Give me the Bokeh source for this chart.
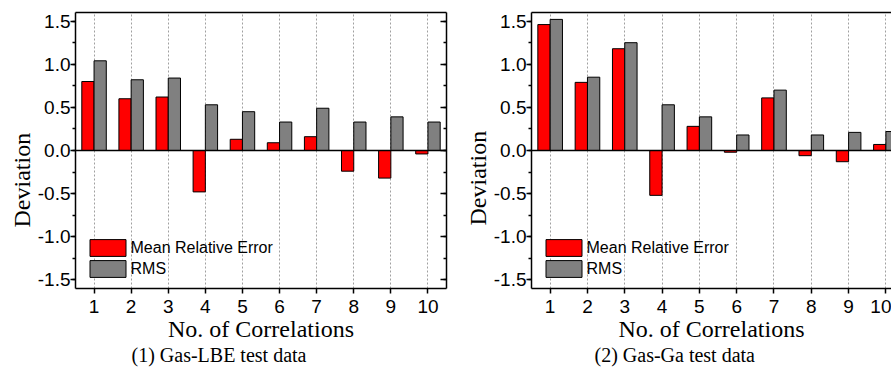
import math
from bokeh.plotting import figure
from bokeh.layouts import row
from bokeh.models import (ColumnDataSource, Range1d, LinearAxis, SingleIntervalTicker,
                          FixedTicker, PrintfTickFormatter, Span, Title, Legend, LegendItem)
from bokeh.transform import dodge
from bokeh.embed import file_html
from bokeh.resources import INLINE

# ---- data ----
correlations = [1, 2, 3, 4, 5, 6, 7, 8, 9, 10]
lbe_mre = [0.80, 0.60, 0.62, -0.48, 0.13, 0.09, 0.16, -0.24, -0.32, -0.04]
lbe_rms = [1.04, 0.82, 0.84, 0.53, 0.45, 0.33, 0.49, 0.33, 0.39, 0.33]
ga_mre = [1.46, 0.79, 1.18, -0.52, 0.28, -0.02, 0.61, -0.06, -0.13, 0.07]
ga_rms = [1.52, 0.85, 1.25, 0.53, 0.39, 0.18, 0.70, 0.18, 0.21, 0.22]
series_names = ["Mean Relative Error", "RMS"]
captions = ["(1) Gas-LBE test data", "(2) Gas-Ga test data"]
y_label = "Deviation"
x_label = "No. of Correlations"

SANS = "Liberation Sans"
SERIF = "Liberation Serif"
H = 369


def make(mre, rms, caption, fig_w, bl, br, x_end, right_axis, cap_off, dev_off):
    p = figure(width=fig_w, height=H, x_range=Range1d(0.5, x_end), y_range=Range1d(-1.6, 1.6),
               output_backend="svg", toolbar_location=None,
               min_border_left=bl, min_border_right=br, min_border_top=12, min_border_bottom=81)
    p.outline_line_color = None
    p.background_fill_color = "white"
    p.border_fill_color = "white"

    src = ColumnDataSource(dict(x=correlations, mre=mre, rms=rms))
    r1 = p.vbar(x=dodge("x", -0.165, range=p.x_range), top="mre", bottom=0, width=0.33, source=src,
                fill_color="#ff0000", line_color="black", line_width=1)
    r2 = p.vbar(x=dodge("x", 0.165, range=p.x_range), top="rms", bottom=0, width=0.33, source=src,
                fill_color="#808080", line_color="black", line_width=1)

    p.add_layout(Span(location=0, dimension="width", line_color="black", line_width=1.5))

    # axes
    xa = p.xaxis[0]
    xa.ticker = FixedTicker(ticks=correlations)
    xa.major_tick_out = 5
    xa.major_tick_in = 0
    xa.minor_tick_out = 0
    xa.axis_line_width = 1.5
    xa.axis_line_color = "black"
    xa.major_tick_line_width = 1.5
    xa.major_tick_line_color = "black"
    xa.major_label_text_font = SANS
    xa.major_label_text_font_size = "19px"
    xa.major_label_text_color = "black"
    xa.major_label_standoff = 6
    xa.axis_label = x_label
    xa.axis_label_text_font = SERIF
    xa.axis_label_text_font_size = "24px"
    xa.axis_label_text_font_style = "normal"
    xa.axis_label_text_color = "black"
    xa.axis_label_standoff = 0

    ya = p.yaxis[0]
    ya.ticker = SingleIntervalTicker(interval=0.5, num_minor_ticks=2)
    ya.formatter = PrintfTickFormatter(format="%.1f")
    ya.major_tick_out = 5
    ya.major_tick_in = 0
    ya.minor_tick_out = 3
    ya.minor_tick_in = 0
    ya.axis_line_width = 1.5
    ya.axis_line_color = "black"
    ya.major_tick_line_width = 1.5
    ya.minor_tick_line_width = 1.5
    ya.major_tick_line_color = "black"
    ya.minor_tick_line_color = "black"
    ya.major_label_text_font = SANS
    ya.major_label_text_font_size = "19px"
    ya.major_label_text_color = "black"
    ya.major_label_standoff = 0

    top = LinearAxis(ticker=FixedTicker(ticks=[]), major_tick_in=0, major_tick_out=0,
                     minor_tick_in=0, minor_tick_out=0, major_label_text_color=None,
                     major_label_standoff=0, axis_line_width=1.5, axis_line_color="black")
    p.add_layout(top, "above")
    if right_axis:
        ra = LinearAxis(ticker=SingleIntervalTicker(interval=0.5, num_minor_ticks=2),
                        major_tick_in=6, major_tick_out=0, minor_tick_in=3, minor_tick_out=0,
                        major_label_text_color=None, major_label_standoff=0,
                        axis_line_width=1.5, axis_line_color="black",
                        major_tick_line_width=1.5, minor_tick_line_width=1.5,
                        major_tick_line_color="black", minor_tick_line_color="black")
        p.add_layout(ra, "right")

    p.xgrid.ticker = FixedTicker(ticks=correlations)
    p.xgrid.grid_line_color = "#a0a0a0"
    p.xgrid.grid_line_dash = "2 2"
    p.xgrid.grid_line_width = 1
    p.ygrid.visible = False

    leg = Legend(items=[LegendItem(label=series_names[0], renderers=[r1]),
                        LegendItem(label=series_names[1], renderers=[r2])],
                 location=(9.5, 9), padding=0, margin=0, spacing=0,
                 glyph_width=45, glyph_height=21, label_height=21, label_standoff=1,
                 label_text_font=SANS, label_text_font_size="16px", label_text_color="black",
                 border_line_color=None, background_fill_alpha=0)
    p.add_layout(leg, "center")

    p.add_layout(Title(text=y_label, align="left", offset=dev_off, standoff=0,
                       text_font=SERIF, text_font_size="24px", text_font_style="normal",
                       text_color="black"), "left")
    p.add_layout(Title(text=caption, align="left", offset=cap_off, standoff=-6,
                       text_font=SERIF, text_font_size="20px", text_font_style="normal",
                       text_color="black"), "below")
    return p


p1 = make(lbe_mre, lbe_rms, captions[0], 460, 75, 14, 10.5, True, 56, 61)
p2 = make(ga_mre, ga_rms, captions[1], 431, 71, 0, 10.15, False, 63, 63)

layout = row(p1, p2, spacing=0)
open("out.html", "w").write(file_html(layout, INLINE))
